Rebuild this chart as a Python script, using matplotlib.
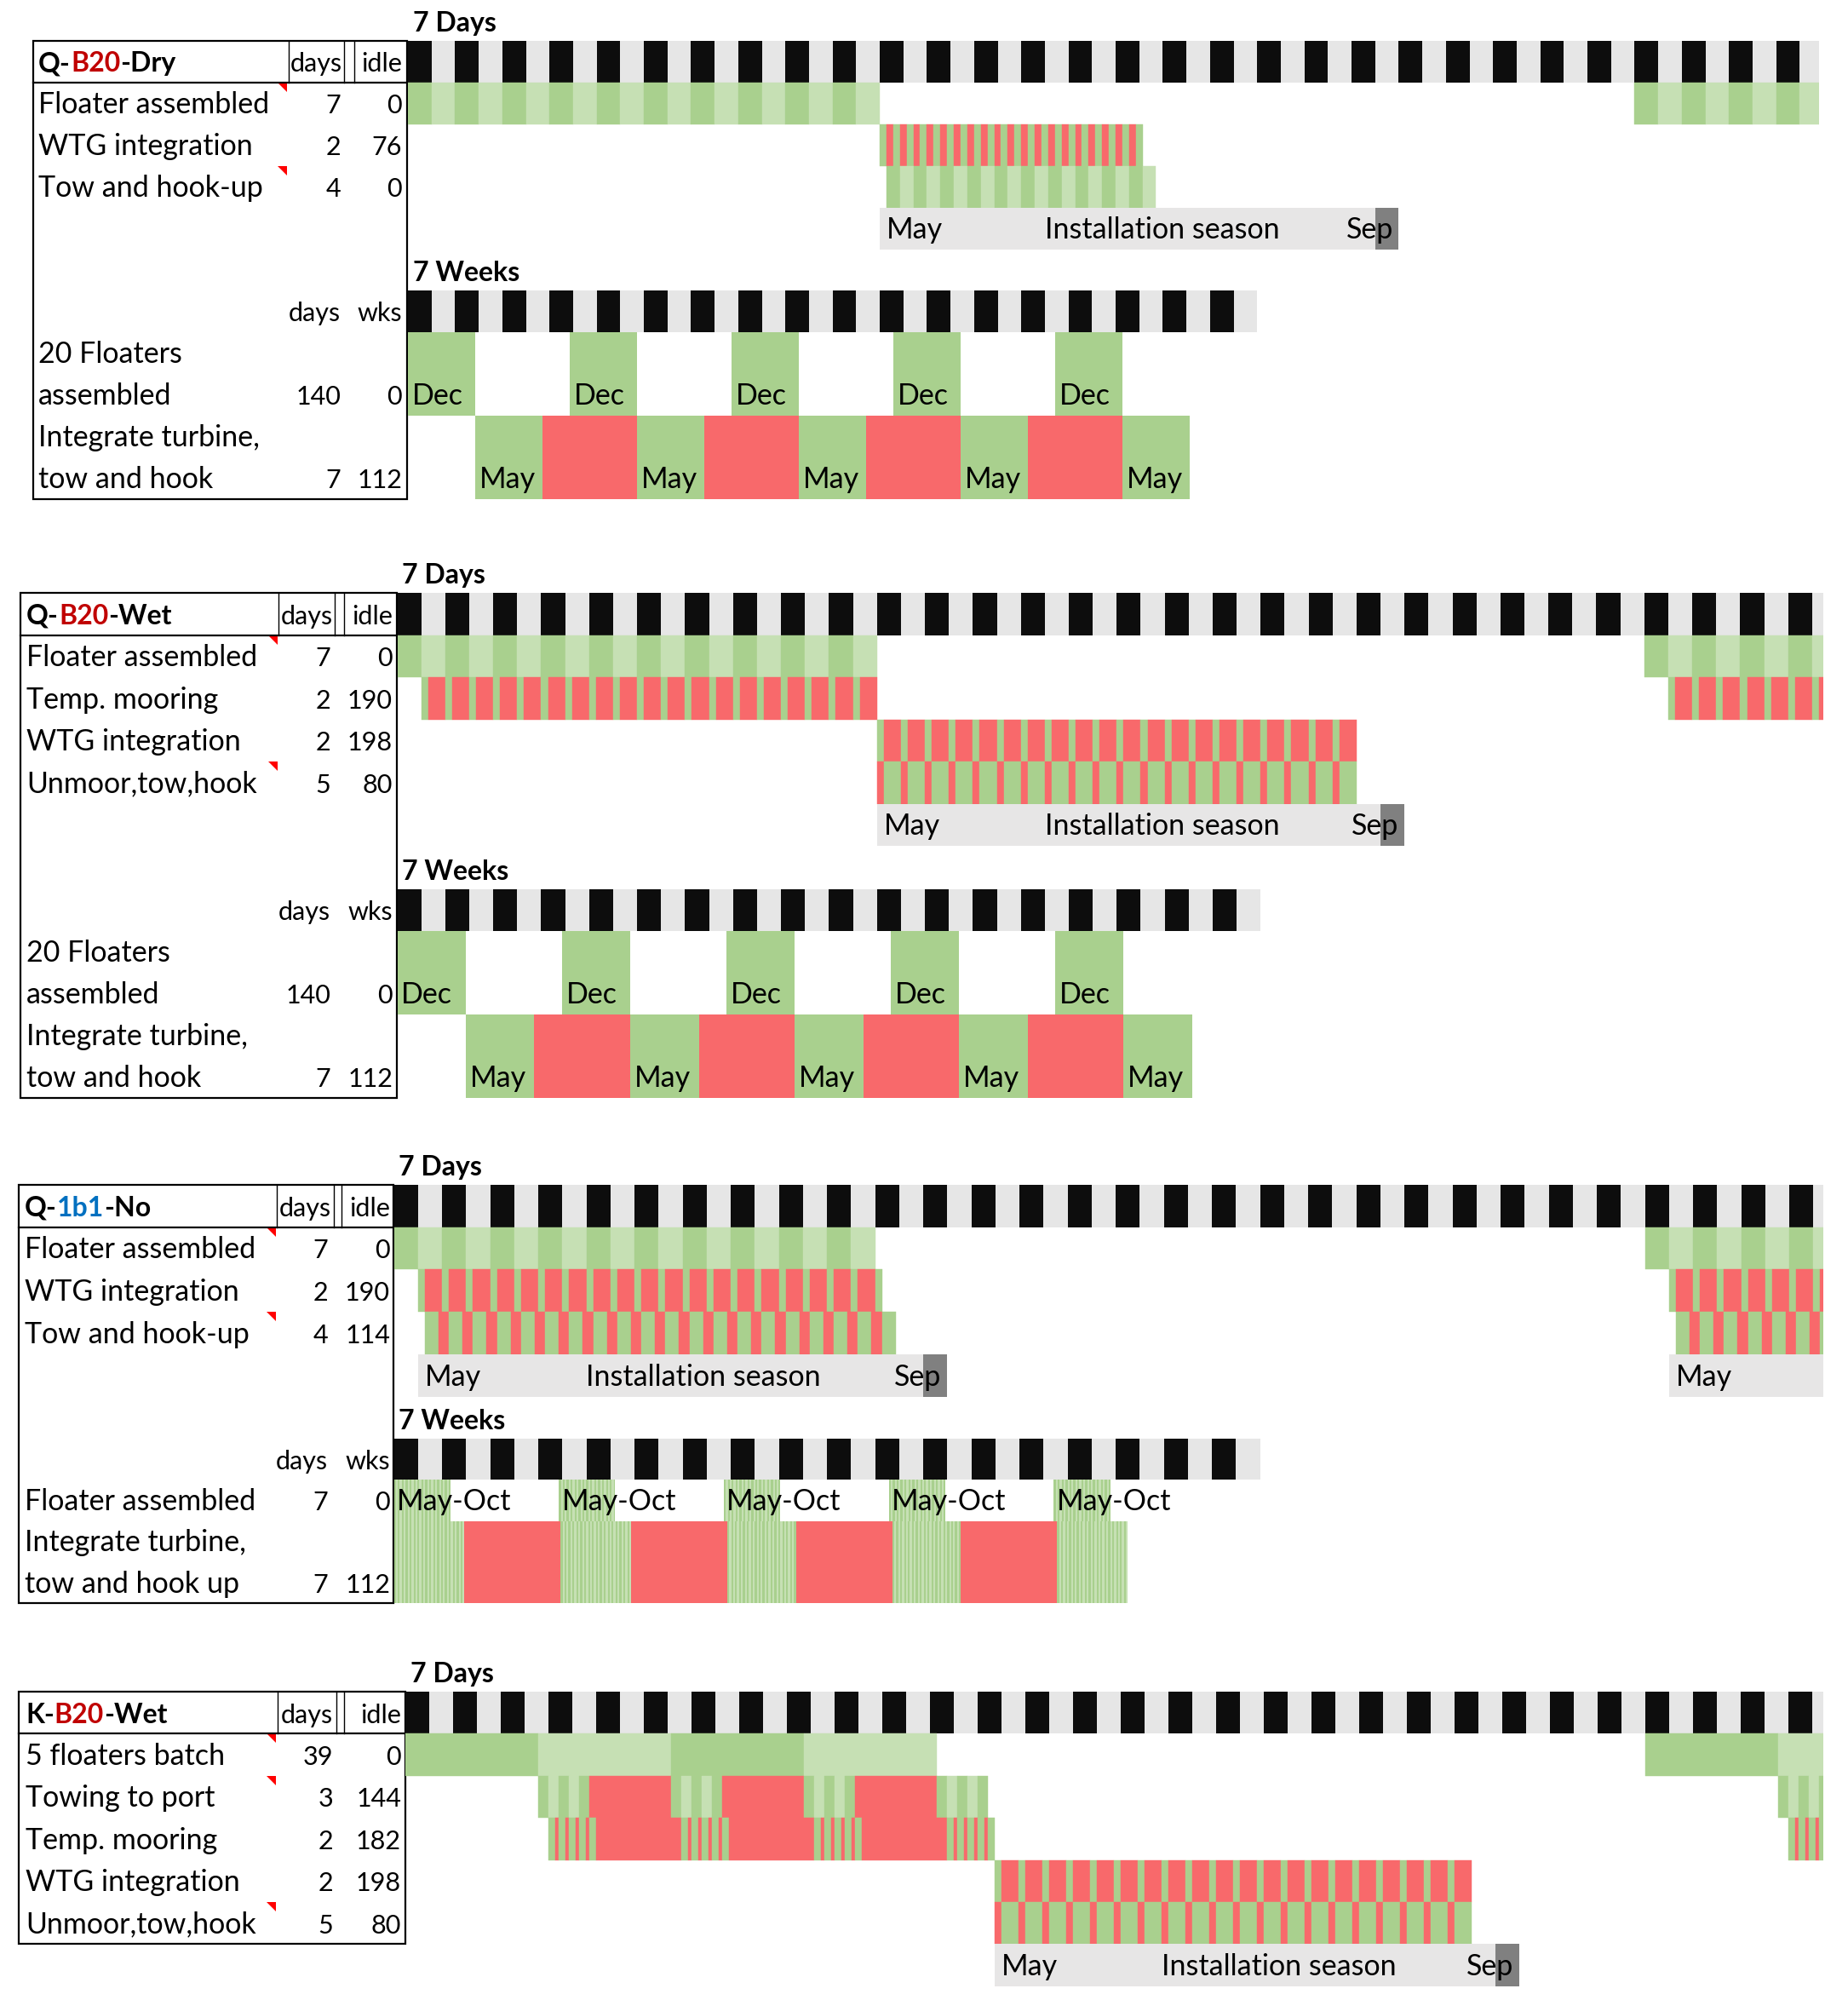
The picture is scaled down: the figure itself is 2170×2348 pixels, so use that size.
import matplotlib
matplotlib.use("Agg")
import matplotlib.pyplot as plt
from matplotlib.patches import Rectangle, Polygon

plt.rcParams['font.family'] = ['Lato', 'DejaVu Sans']

W, H = 2170, 2348
FS = 24.5    # labels
FS_NUM = 22  # numbers and small headers
FS_B = 23    # bold titles

DARK_G = "#A9D08E"
LIGHT_G = "#C6E0B4"
RED = "#F8696B"
HEAD_DARK = "#0D0D0D"
HEAD_LIGHT = "#E6E6E6"
SEASON = "#E7E6E6"
SEASON_END = "#808080"
SHADE = {"G": DARK_G, "g": LIGHT_G, "R": RED}
TITLE_RED = "#C00000"
TITLE_BLUE = "#0070C0"

# ---------------- data ----------------
DAY_CELLS = 60     # header columns of 7 days
WEEK_CELLS = 36    # header columns of 7 weeks
SEASON_LEN = 154   # May..Sep in days, last column shaded

# row specs: (start day, [(duration, state), ...], repeats)   G/g = work, R = idle
# Q-B20-Dry
dry_name = ["Q-", "B20", "-Dry"]
dry_tasks = ["Floater assembled", "WTG integration", "Tow and hook-up"]
dry_days = [7, 2, 4]
dry_idle = [0, 76, 0]
dry_marks = [0, 2]
dry_floater = [(0, [(7, "G"), (7, "g")], 10), (364, [(7, "G"), (7, "g")], 4)]
dry_wtg = [(140, [(2, "G"), (2, "R")], 19), (216, [(2, "G")], 1)]
dry_tow = [(142, [(4, "G"), (4, "g")], 10)]
dry_season = [140]

# 7 weeks view (Q-B20-Dry and Q-B20-Wet), in weeks
wk_tasks = [["20 Floaters", "assembled"], ["Integrate turbine,", "tow and hook"]]
wk_days = [140, 7]
wk_wks = [0, 112]
wk_dec = [0, 48, 96, 144, 192]
wk_may = [20, 68, 116, 164, 212]
wk_idle = [40, 88, 136, 184]
wk_block = 20
wk_gap = 28

# Q-B20-Wet
wet_name = ["Q-", "B20", "-Wet"]
wet_tasks = ["Floater assembled", "Temp. mooring", "WTG integration", "Unmoor,tow,hook"]
wet_days = [7, 2, 2, 5]
wet_idle = [0, 190, 198, 80]
wet_marks = [0, 3]
wet_floater = [(0, [(7, "G"), (7, "g")], 10), (364, [(7, "G"), (7, "g")], 4)]
wet_moor = [(7, [(2, "G"), (5, "R")], 19), (371, [(2, "G"), (5, "R")], 7)]
wet_wtg = [(140, [(2, "G"), (5, "R")], 20)]
wet_unmoor = [(140, [(2, "R"), (5, "G")], 20)]
wet_season = [140]

# Q-1b1-No
no_name = ["Q-", "1b1", "-No"]
no_tasks = ["Floater assembled", "WTG integration", "Tow and hook-up"]
no_days = [7, 2, 4]
no_idle = [0, 190, 114]
no_marks = [0, 2]
no_floater = [(0, [(7, "G"), (7, "g")], 10), (364, [(7, "G"), (7, "g")], 4)]
no_wtg = [(7, [(2, "G"), (5, "R")], 19), (140, [(2, "G")], 1), (371, [(2, "G"), (5, "R")], 7)]
no_tow = [(9, [(4, "G"), (3, "R")], 19), (142, [(4, "G")], 1), (373, [(4, "G"), (3, "R")], 7)]
no_season = [7, 371]
no_wk_tasks = [["Floater assembled"], ["Integrate turbine,", "tow and hook up"]]
no_wk_days = [7, 7]
no_wk_wks = [0, 112]
no_wk_float = [0, 48, 96, 144, 192]
no_wk_float_len = [16.4, 16.4, 16.4, 16.4, 16.4]
no_wk_int = [0, 48.5, 97, 145, 193]
no_wk_int_len = [20.5, 20.5, 20, 20, 20.5]
no_wk_idle = [20.5, 69, 117, 165]
no_wk_idle_len = 28

# K-B20-Wet
k_name = ["K-", "B20", "-Wet"]
k_tasks = ["5 floaters batch", "Towing to port", "Temp. mooring", "WTG integration", "Unmoor,tow,hook"]
k_days = [39, 3, 2, 2, 5]
k_idle = [0, 144, 182, 198, 80]
k_marks = [0, 1, 4]
tow5 = [(3, "G"), (3, "g"), (3, "G"), (3, "g"), (3, "G")]
moor5 = [(2, "G"), (1, "R"), (2, "G"), (1, "R"), (2, "G"), (1, "R"), (2, "G"), (1, "R"), (2, "G")]
k_batch = [(0, [(39, "G"), (39, "g")], 2), (364, [(39, "G"), (39, "g")], 1)]
k_towing = [(39, tow5 + [(24, "R")], 3), (156, tow5, 1), (403, tow5, 1)]
k_moor = [(42, moor5 + [(25, "R")], 3), (159, moor5, 1), (406, moor5, 1)]
k_wtg = [(173, [(2, "G"), (5, "R")], 20)]
k_unmoor = [(173, [(2, "R"), (5, "G")], 20)]
k_season = [173]

# ---------------- layout (pixels) ----------------
S1 = dict(left=39, right=478, x0=479, cell=27.7, x_end=2136, top=48, row_h=49, wk_top=341, wk_row_h=49,
          bottom=586, label_x=45, days_rx=400, idle_rx=472, vlines=[339, 404, 416], tri_x=337)
S2 = dict(left=24, right=466, x0=466.5, cell=28.16, x_end=2141, top=696, row_h=49.5, wk_top=1044, wk_row_h=49,
          bottom=1289, label_x=31, days_rx=388, idle_rx=461, vlines=[327, 393, 404], tri_x=326)
S3 = dict(left=22, right=462, x0=462.5, cell=28.25, x_end=2141, top=1391, row_h=49.7, wk_top=1689, wk_row_h=48.3,
          bottom=1882, label_x=29, days_rx=385, idle_rx=458, vlines=[325, 392, 401], tri_x=324)
S4 = dict(left=22, right=476, x0=475.5, cell=28.0, x_end=2141, top=1986, row_h=49.4, wk_top=None, wk_row_h=None,
          bottom=2282, label_x=30, days_rx=391, idle_rx=471, vlines=[326, 395, 404], tri_x=324)

fig = plt.figure(figsize=(W / 100, H / 100), dpi=100)
bg = fig.add_axes([0, 0, 1, 1])
bg.set_xlim(0, W)
bg.set_ylim(H, 0)
bg.axis("off")


def table(g, name, name_cols, tasks, days, idle, marks):
    bg.add_patch(Rectangle((g["left"], g["top"]), g["right"] - g["left"], g["bottom"] - g["top"],
                           fill=False, ec="black", lw=1.6))
    hb = g["top"] + g["row_h"]
    bg.plot([g["left"], g["right"]], [hb, hb], color="black", lw=1.6)
    for v in g["vlines"]:
        bg.plot([v, v], [g["top"], hb], color="black", lw=1)
    ty = g["top"] + 0.74 * g["row_h"]
    t = bg.text(g["label_x"], ty, name[0], color=name_cols[0], fontsize=FS_B, fontweight="bold", va="baseline")
    for part, c in zip(name[1:], name_cols[1:]):
        t = bg.annotate(part, xy=(1, 0), xycoords=t, ha="left", va="bottom", color=c,
                        fontsize=FS_B, fontweight="bold")
    bg.text((g["vlines"][0] + g["vlines"][1]) / 2, ty, "days", fontsize=FS_NUM, ha="center", va="baseline")
    bg.text(g["idle_rx"], ty, "idle", fontsize=FS_NUM, ha="right", va="baseline")
    for i, (task, d, idl) in enumerate(zip(tasks, days, idle)):
        y = g["top"] + g["row_h"] * (i + 1.74)
        bg.text(g["label_x"], y, task, fontsize=FS, va="baseline")
        bg.text(g["days_rx"], y, str(d), fontsize=FS_NUM, ha="right", va="baseline")
        bg.text(g["idle_rx"], y, str(idl), fontsize=FS_NUM, ha="right", va="baseline")
    for i in marks:
        yt = g["top"] + g["row_h"] * (i + 1)
        x = g["tri_x"]
        bg.add_patch(Polygon([(x - 11, yt), (x, yt), (x, yt + 11)], closed=True, color="red", lw=0))


def week_table(g, tasks, days, wks):
    y = g["wk_top"] + 0.74 * g["wk_row_h"]
    bg.text(g["days_rx"], y, "days", fontsize=FS_NUM, ha="right", va="baseline")
    bg.text(g["idle_rx"], y, "wks", fontsize=FS_NUM, ha="right", va="baseline")
    u = 1
    for lines, d, w in zip(tasks, days, wks):
        for line in lines:
            y = g["wk_top"] + g["wk_row_h"] * (u + 0.74)
            bg.text(g["label_x"], y, line, fontsize=FS, va="baseline")
            u += 1
        bg.text(g["days_rx"], y, str(d), fontsize=FS_NUM, ha="right", va="baseline")
        bg.text(g["idle_rx"], y, str(w), fontsize=FS_NUM, ha="right", va="baseline")


def header_strip(ax, n, unit):
    ax.broken_barh([(i * unit, unit) for i in range(n)], (0, 1),
                   facecolors=[HEAD_DARK if i % 2 == 0 else HEAD_LIGHT for i in range(n)], linewidth=0)


def day_panel(g, nrows):
    top, rh = g["top"], g["row_h"]
    ax = fig.add_axes([g["x0"] / W, 1 - (top + nrows * rh) / H, (g["x_end"] - g["x0"]) / W, nrows * rh / H])
    ax.set_xlim(0, (g["x_end"] - g["x0"]) / g["cell"] * 7)
    ax.set_ylim(nrows, 0)
    ax.axis("off")
    header_strip(ax, DAY_CELLS, 7)
    bg.text(g["x0"] + 6, top - 0.22 * rh, "7 Days", fontsize=FS_B, fontweight="bold", va="baseline")
    return ax


def week_panel(g, nunits):
    top, rh = g["wk_top"], g["wk_row_h"]
    ax = fig.add_axes([g["x0"] / W, 1 - (top + nunits * rh) / H, WEEK_CELLS * g["cell"] / W, nunits * rh / H])
    ax.set_xlim(0, WEEK_CELLS * 7)
    ax.set_ylim(nunits, 0)
    ax.axis("off")
    header_strip(ax, WEEK_CELLS, 7)
    bg.text(g["x0"] + 6, top - 0.22 * rh, "7 Weeks", fontsize=FS_B, fontweight="bold", va="baseline")
    return ax


def bars(ax, specs, row):
    xr, fc = [], []
    for start, pattern, reps in specs:
        x = start
        for _ in range(reps):
            for dur, key in pattern:
                xr.append((x, dur))
                fc.append(SHADE[key])
                x += dur
    ax.broken_barh(xr, (row, 1), facecolors=fc, edgecolors=fc, linewidth=0.3)


def season(ax, row, start):
    ax.broken_barh([(start, SEASON_LEN - 7), (start + SEASON_LEN - 7, 7)], (row, 1),
                   facecolors=[SEASON, SEASON_END], linewidth=0)
    xmax = ax.get_xlim()[1]
    for dx, s, w in [(2, "May", 12), (49, "Installation season", 70), (138.5, "Sep", 14)]:
        if start + dx + w < xmax:
            ax.text(start + dx, row + 0.74, s, fontsize=FS, va="baseline", ha="left")


def striped(ax, starts, lengths, row, height, step=4 / 7):
    xr, fc = [], []
    for s, l in zip(starts, lengths):
        x, k = s, 0
        while x < s + l - 1e-6:
            d = min(step, s + l - x)
            xr.append((x, d))
            fc.append(DARK_G if k % 2 == 0 else LIGHT_G)
            x += d
            k += 1
    ax.broken_barh(xr, (row, height), facecolors=fc, linewidth=0)


def dec_may_weeks(wk):
    wk.broken_barh([(s, wk_block) for s in wk_dec], (1, 2), facecolors=DARK_G, linewidth=0)
    wk.broken_barh([(s, wk_block) for s in wk_may], (3, 2), facecolors=DARK_G, linewidth=0)
    wk.broken_barh([(s, wk_gap) for s in wk_idle], (3, 2), facecolors=RED, linewidth=0)
    for s in wk_dec:
        wk.text(s + 1.2, 2.74, "Dec", fontsize=FS, va="baseline")
    for s in wk_may:
        wk.text(s + 1.2, 4.74, "May", fontsize=FS, va="baseline")


# ---- Q-B20-Dry ----
table(S1, dry_name, ["black", TITLE_RED, "black"], dry_tasks, dry_days, dry_idle, dry_marks)
ax = day_panel(S1, 5)
bars(ax, dry_floater, 1)
bars(ax, dry_wtg, 2)
bars(ax, dry_tow, 3)
for s in dry_season:
    season(ax, 4, s)
wk = week_panel(S1, 5)
week_table(S1, wk_tasks, wk_days, wk_wks)
dec_may_weeks(wk)

# ---- Q-B20-Wet ----
table(S2, wet_name, ["black", TITLE_RED, "black"], wet_tasks, wet_days, wet_idle, wet_marks)
ax = day_panel(S2, 6)
bars(ax, wet_floater, 1)
bars(ax, wet_moor, 2)
bars(ax, wet_wtg, 3)
bars(ax, wet_unmoor, 4)
for s in wet_season:
    season(ax, 5, s)
wk = week_panel(S2, 5)
week_table(S2, wk_tasks, wk_days, wk_wks)
dec_may_weeks(wk)

# ---- Q-1b1-No ----
table(S3, no_name, ["black", TITLE_BLUE, "black"], no_tasks, no_days, no_idle, no_marks)
ax = day_panel(S3, 5)
bars(ax, no_floater, 1)
bars(ax, no_wtg, 2)
bars(ax, no_tow, 3)
for s in no_season:
    season(ax, 4, s)
wk = week_panel(S3, 4)
week_table(S3, no_wk_tasks, no_wk_days, no_wk_wks)
striped(wk, no_wk_float, no_wk_float_len, 1, 1)
striped(wk, no_wk_int, no_wk_int_len, 2, 2)
wk.broken_barh([(s, no_wk_idle_len) for s in no_wk_idle], (2, 2), facecolors=RED, linewidth=0)
for s in no_wk_float:
    wk.text(s + 0.8, 1.74, "May-Oct", fontsize=FS, va="baseline")

# ---- K-B20-Wet ----
table(S4, k_name, ["black", TITLE_RED, "black"], k_tasks, k_days, k_idle, k_marks)
ax = day_panel(S4, 7)
bars(ax, k_batch, 1)
bars(ax, k_towing, 2)
bars(ax, k_moor, 3)
bars(ax, k_wtg, 4)
bars(ax, k_unmoor, 5)
for s in k_season:
    season(ax, 6, s)

fig.savefig("out.png", dpi=100)
